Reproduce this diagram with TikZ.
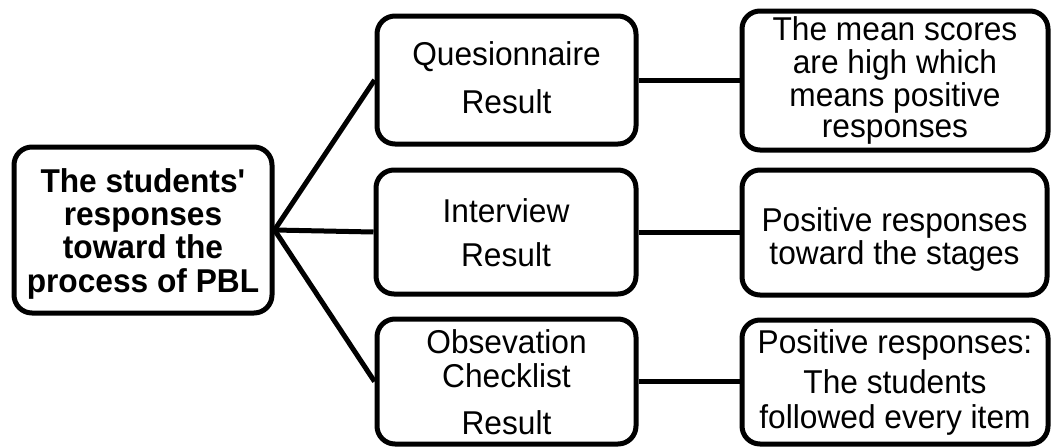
\documentclass[tikz,border=0pt]{standalone}
\usepackage{fontspec}
\setmainfont{Liberation Sans}[FakeStretch=0.96]
\newcommand{\celltext}[2]{\raisebox{#1}[0pt][0pt]{\begin{tabular}[t]{@{}c@{}}#2\end{tabular}}}
\begin{document}
\begin{tikzpicture}[x=1pt,y=-1pt,
  box/.style={draw=black, line width=5pt, rounded corners=18pt, inner sep=0pt,
    fill=white, font=\fontsize{33}{32}\selectfont},
  link/.style={draw=black, line width=5pt}]
\useasboundingbox[fill=white] (0,0) rectangle (1051,447);
% left
\node[box, minimum width=258pt, minimum height=166pt, font=\fontsize{33}{33}\selectfont\bfseries]
  (L) at (143,230) {\celltext{38pt}{The students\textquotesingle\\responses\\toward the\\process of PBL}};
% middle
\node[box, minimum width=259pt, minimum height=128pt] (Q) at (506.5,80)
  {\celltext{15pt}{Quesionnaire\\[15pt]Result}};
\node[box, minimum width=260pt, minimum height=124pt] (I) at (506,232)
  {\celltext{10pt}{Interview\\[11pt]Result}};
\node[box, minimum width=259pt, minimum height=125pt] (O) at (506.5,381.5)
  {\celltext{28pt}{Obsevation\\Checklist\\[14pt]Result}};
% right
\node[box, minimum width=306pt, minimum height=139pt, font=\fontsize{33}{30.5}\selectfont]
  (R1) at (895,80.5) {\celltext{40pt}{The mean scores\\are high which\\means positive\\responses}};
\node[box, minimum width=305pt, minimum height=125pt, font=\fontsize{33}{31.5}\selectfont] (R2) at (894.5,232.5)
  {\celltext{1pt}{Positive responses\\toward the stages}};
\node[box, minimum width=306pt, minimum height=124pt, font=\fontsize{33}{31.5}\selectfont] (R3) at (895,382)
  {\celltext{29pt}{Positive responses:\\[7.5pt]The students\\[1.5pt]followed every item}};
% connectors
\draw[link] (L.east) -- (Q.west);
\draw[link] (L.east) -- (I.west);
\draw[link] (L.east) -- (O.west);
\draw[link] (Q.east) -- (Q.east -| R1.west);
\draw[link] (I.east) -- (I.east -| R2.west);
\draw[link] (O.east) -- (O.east -| R3.west);
\end{tikzpicture}
\end{document}
